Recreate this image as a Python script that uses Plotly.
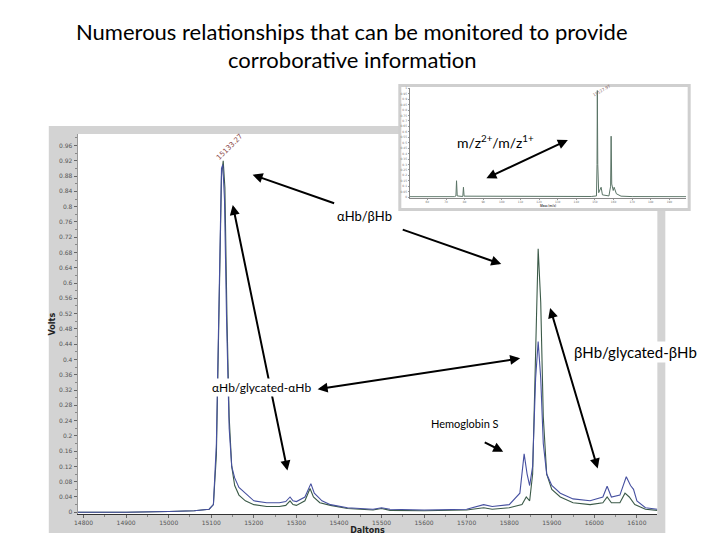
import plotly.graph_objects as go

# ---------------- data ----------------
mass_a = [14786, 14900, 15000, 15060, 15095, 15105, 15112, 15118, 15124, 15128, 15132, 15137,
          15142, 15148, 15155, 15165, 15180, 15200, 15230, 15260, 15275, 15285, 15292, 15300,
          15320, 15332, 15340, 15355, 15380, 15420, 15480, 15500, 15520, 15600, 15700, 15740,
          15760, 15800, 15830, 15840, 15848, 15855, 15862, 15868, 15874, 15880, 15888, 15900,
          15920, 15950, 15990, 16020, 16030, 16040, 16060, 16072, 16082, 16095, 16120, 16148]
volts_a = [0.0, 0.0, 0.002, 0.004, 0.008, 0.02, 0.15, 0.55, 0.88, 0.92, 0.85, 0.5,
           0.25, 0.12, 0.07, 0.045, 0.03, 0.02, 0.015, 0.015, 0.018, 0.03, 0.02, 0.018,
           0.03, 0.062, 0.04, 0.025, 0.018, 0.01, 0.006, 0.01, 0.005, 0.004, 0.006, 0.012,
           0.008, 0.012, 0.02, 0.04, 0.03, 0.1, 0.45, 0.69, 0.55, 0.25, 0.1, 0.06,
           0.04, 0.025, 0.02, 0.025, 0.04, 0.025, 0.025, 0.05, 0.04, 0.02, 0.008, 0.005]

mass_b = [14786, 14900, 15000, 15060, 15095, 15105, 15112, 15118, 15124, 15127, 15131, 15136,
          15142, 15148, 15155, 15165, 15180, 15200, 15230, 15260, 15275, 15285, 15292, 15300,
          15320, 15334, 15342, 15360, 15380, 15420, 15480, 15500, 15520, 15600, 15700, 15740,
          15760, 15800, 15825, 15835, 15842, 15848, 15855, 15862, 15868, 15874, 15880, 15888,
          15900, 15920, 15950, 15990, 16020, 16030, 16040, 16060, 16075, 16085, 16092, 16100,
          16120, 16148]
volts_b = [0.0, 0.0, 0.002, 0.004, 0.008, 0.02, 0.18, 0.6, 0.9, 0.91, 0.82, 0.5,
           0.22, 0.12, 0.09, 0.065, 0.05, 0.03, 0.025, 0.025, 0.028, 0.04, 0.03, 0.028,
           0.04, 0.075, 0.05, 0.03, 0.02, 0.012, 0.008, 0.012, 0.008, 0.006, 0.008, 0.02,
           0.015, 0.02, 0.05, 0.153, 0.1, 0.07, 0.12, 0.35, 0.447, 0.35, 0.18, 0.1,
           0.07, 0.05, 0.035, 0.03, 0.04, 0.068, 0.04, 0.045, 0.093, 0.07, 0.06, 0.03,
           0.012, 0.008]

inset_mz = [5050, 7450, 7530, 7563, 7600, 7900, 7934, 7970, 14800, 15080, 15110, 15127, 15150,
            15200, 15290, 15330, 15400, 15750, 15840, 15868, 15900, 15980, 16030, 16075, 16150,
            16400, 17000, 19900]
inset_int = [0.003, 0.003, 0.01, 0.15, 0.01, 0.005, 0.09, 0.008, 0.005, 0.01, 0.3, 0.98, 0.3,
             0.04, 0.07, 0.09, 0.02, 0.01, 0.1, 0.56, 0.12, 0.06, 0.09, 0.07, 0.03,
             0.008, 0.004, 0.003]

x_ticks = [14800, 14900, 15000, 15100, 15200, 15300, 15400, 15500, 15600, 15700, 15800,
           15900, 16000, 16100]
main_peak_label = "15133.27"
inset_peak_label = "15127.97"

# ---------------- layout helpers (window pixel -> paper) ----------------
OFF_X, OFF_Y = 11, 8
W, H = 720 - 8, 540 - 8
def px(x):
    return (x - OFF_X) / W
def py(y):
    return 1 - (y - OFF_Y) / H

fig = go.Figure()
fig.add_trace(go.Scatter(x=mass_a, y=volts_a, mode="lines", line=dict(color="#3b5a48", width=1.1),
                         showlegend=False, xaxis="x", yaxis="y"))
fig.add_trace(go.Scatter(x=mass_b, y=volts_b, mode="lines", line=dict(color="#4650a0", width=1.1),
                         showlegend=False, xaxis="x", yaxis="y"))
fig.add_trace(go.Scatter(x=inset_mz, y=inset_int, mode="lines", line=dict(color="#5a7466", width=1),
                         showlegend=False, xaxis="x2", yaxis="y2"))

shapes = [
    dict(type="rect", xref="paper", yref="paper", x0=px(48), x1=px(668), y0=py(535), y1=py(125),
         fillcolor="#d3d3d3", line=dict(width=0), layer="below"),
    dict(type="rect", xref="paper", yref="paper", x0=px(77), x1=px(660), y0=py(516), y1=py(133),
         fillcolor="white", line=dict(width=0), layer="below"),
    dict(type="rect", xref="paper", yref="paper", x0=px(401), x1=px(692), y0=py(209), y1=py(84),
         fillcolor="white", line=dict(color="#cfcfcf", width=3), layer="below"),
]

tickfont = dict(family="DejaVu Sans", size=6, color="#555555")
fig.update_layout(
    width=W, height=H, margin=dict(l=0, r=0, t=0, b=0),
    paper_bgcolor="white", plot_bgcolor="rgba(0,0,0,0)",
    shapes=shapes,
    xaxis=dict(domain=[px(77), px(660)], range=[14786, 16148], anchor="y",
               tickmode="array", tickvals=x_ticks, ticktext=[str(v) for v in x_ticks],
               ticks="outside", ticklen=3, tickcolor="#666", tickfont=tickfont,
               showline=True, linecolor="#333", linewidth=1, showgrid=False, zeroline=False,
               minor=dict(ticks="outside", ticklen=2, dtick=50, tickcolor="#888"),
               title=dict(text="<b>Daltons</b>", font=dict(family="DejaVu Sans", size=8, color="#222"),
                          standoff=2)),
    yaxis=dict(domain=[py(516), py(133)], range=[-0.005, 0.99], anchor="x",
               tick0=0, dtick=0.04, ticks="outside", ticklen=3, tickcolor="#666", tickfont=tickfont,
               showline=True, linecolor="#999", linewidth=1, showgrid=False, zeroline=False,
               minor=dict(ticks="outside", ticklen=2, dtick=0.02, tickcolor="#888"),
               title=dict(text="<b>Volts</b>", font=dict(family="DejaVu Sans", size=8, color="#222"),
                          standoff=2)),
    xaxis2=dict(domain=[px(411), px(689)], range=[5050, 19900], anchor="y2",
                dtick=1000, ticks="outside", ticklen=1, tickcolor="#999",
                tickfont=dict(family="DejaVu Sans", size=3, color="#777"),
                showline=True, linecolor="#888", linewidth=1, showgrid=False, zeroline=False,
                title=dict(text="<b>Mass (m/z)</b>", font=dict(size=3, color="#555"), standoff=1)),
    yaxis2=dict(domain=[py(197), py(87)], range=[-0.005, 1.0], anchor="x2",
                dtick=0.05, ticks="outside", ticklen=1, tickcolor="#999",
                tickfont=dict(family="DejaVu Sans", size=3, color="#777"),
                showline=True, linecolor="#888", linewidth=1, showgrid=False, zeroline=False),
)

annotations = []
def arrow(tail, head, both=False):
    d = dict(xref="paper", yref="paper", x=px(head[0]), y=py(head[1]),
             ax=tail[0] - head[0], ay=tail[1] - head[1], text="", showarrow=True,
             arrowhead=2, arrowsize=1, arrowwidth=2, arrowcolor="black", standoff=0)
    if both:
        d.update(arrowside="end+start", startarrowhead=2, startarrowsize=1, startstandoff=0)
    annotations.append(d)

arrow((336, 203), (253, 174))
arrow((403, 229), (503, 264))
arrow((233, 205), (288, 472), both=True)
arrow((318, 390), (522, 359), both=True)
arrow((552, 308), (600, 470), both=True)
arrow((485, 443), (505, 453))
arrow((487, 178), (570, 139), both=True)

def label(text, cx, cy, size, bg=None, family="Lato", color="black", angle=0):
    d = dict(xref="paper", yref="paper", x=px(cx), y=py(cy), text=text, showarrow=False,
             xanchor="center", yanchor="middle", textangle=angle,
             font=dict(family=family, size=size, color=color))
    if bg:
        d.update(bgcolor=bg, borderpad=1)
    annotations.append(d)

label("Numerous relationships that can be monitored to provide", 353, 30, 22)
label("corroborative information", 353, 58, 22)
label("m/z<sup>2+</sup>/m/z<sup>1+</sup>", 497, 140, 14)
label("αHb/βHb", 365, 216, 13, bg="white")
label("αHb/glycated-αHb", 262, 388, 12, bg="white")
label("Hemoglobin S", 467, 425, 11)
label("βHb/glycated-βHb", 638, 353, 15, bg="white")
label(main_peak_label, 230, 146, 7, family="DejaVu Sans", color="#8b4a4a", angle=-45)
label(inset_peak_label, 604, 89, 4, family="DejaVu Sans", color="#8b6a6a", angle=-30)

fig.update_layout(annotations=annotations)
fig.write_html("out.html")
